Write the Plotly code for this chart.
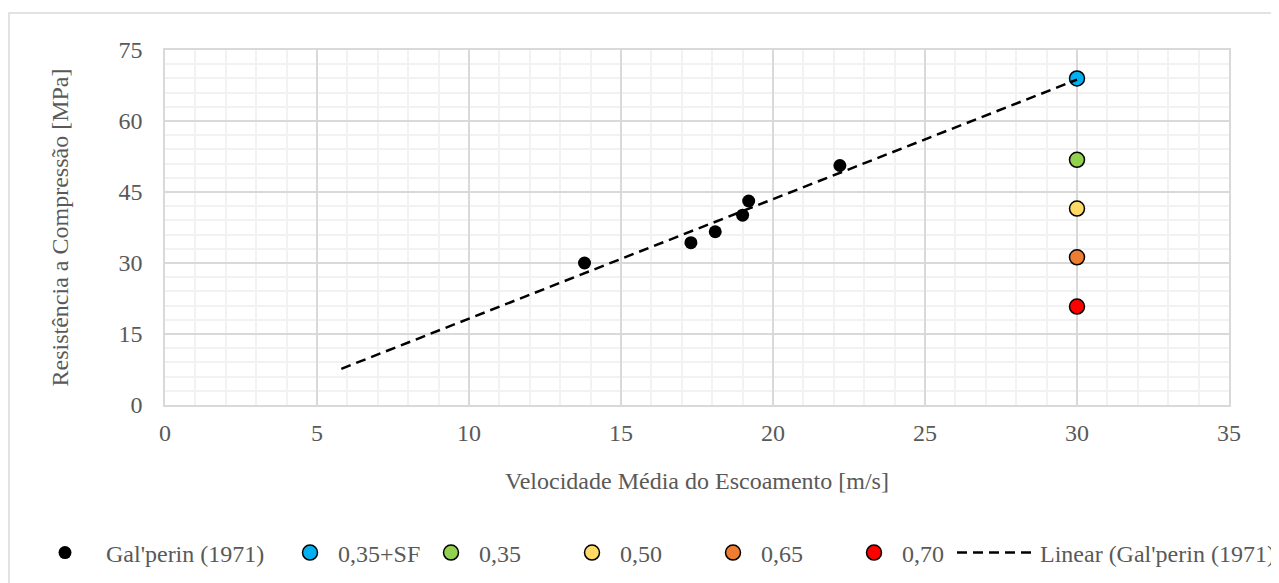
import numpy as np
import plotly.graph_objects as go

# Data
galperin_x = [13.8, 17.3, 18.1, 19.0, 19.2, 22.2]
galperin_y = [30.0, 34.3, 36.6, 40.1, 43.1, 50.6]

mix_names = ["0,35+SF", "0,35", "0,50", "0,65", "0,70"]
mix_x = [30, 30, 30, 30, 30]
mix_y = [69.0, 51.8, 41.5, 31.2, 20.8]
mix_colors = ["#00B0F0", "#92D050", "#FFD966", "#ED7D31", "#FF0000"]

trend_range = [5.8, 30.0]

x_title = "Velocidade Média do Escoamento [m/s]"
y_title = "Resistência a Compressão [MPa]"

FONT = "Liberation Serif, Times New Roman, serif"
TXT = "#595959"

# Linear trendline fitted to Gal'perin data
slope, intercept = np.polyfit(galperin_x, galperin_y, 1)
tx = np.array(trend_range)
ty = slope * tx + intercept

fig = go.Figure()
fig.add_trace(go.Scatter(
    x=galperin_x, y=galperin_y, mode="markers", name="Gal'perin (1971)",
    marker=dict(color="black", size=13, line=dict(width=0)),
    legend="legend",
))
for n, xv, yv, c in zip(mix_names, mix_x, mix_y, mix_colors):
    fig.add_trace(go.Scatter(
        x=[xv], y=[yv], mode="markers", name=n,
        marker=dict(color=c, size=15, line=dict(color="black", width=1.5)),
        legend="legend2",
    ))
fig.add_trace(go.Scatter(
    x=tx, y=ty, mode="lines", name="Linear (Gal'perin (1971))",
    line=dict(color="black", width=2.5, dash="10px,6px"),
    legend="legend3",
))

W, H = 1279, 583
OFF = 8  # page body margin
L, T = 165 - OFF, 50 - OFF
pw, ph = 1064, 355
R = W - L - pw
B = H - T - ph

def px2paper_x(px):
    return (px - OFF - L) / pw

def py2paper_y(py):
    return (T + ph - (py - OFF)) / ph

LEG_Y = 1 - (553 - OFF) / H
LEGFONT = dict(family=FONT, size=24, color=TXT)

fig.update_layout(
    width=W, height=H,
    margin=dict(l=L, r=R, t=T, b=B),
    paper_bgcolor="white", plot_bgcolor="white",
    showlegend=True,
    font=dict(family=FONT, size=24, color=TXT),
    xaxis=dict(
        range=[0, 35], dtick=5, tick0=0,
        showgrid=True, gridcolor="#D9D9D9", gridwidth=1.5,
        minor=dict(dtick=1, showgrid=True, gridcolor="#F2F2F2", gridwidth=1.5),
        showline=True, linecolor="#D9D9D9", linewidth=1.5, mirror=True,
        zeroline=False, ticks="", ticklen=0, ticklabelstandoff=5,
        title=dict(text=x_title, font=dict(family=FONT, size=24, color=TXT), standoff=28),
        tickfont=dict(family=FONT, size=24, color=TXT),
    ),
    yaxis=dict(
        range=[0, 75], dtick=15, tick0=0,
        showgrid=True, gridcolor="#D9D9D9", gridwidth=1.5,
        minor=dict(dtick=3, showgrid=True, gridcolor="#F2F2F2", gridwidth=1.5),
        showline=True, linecolor="#D9D9D9", linewidth=1.5, mirror=True,
        zeroline=False, ticks="", ticklen=0, ticklabelstandoff=16,
        title=dict(text=y_title, font=dict(family=FONT, size=24, color=TXT), standoff=43),
        tickfont=dict(family=FONT, size=24, color=TXT),
    ),
    legend=dict(orientation="h", xref="container", yref="container",
                x=(24 - OFF) / W, y=LEG_Y, xanchor="left", yanchor="middle",
                itemwidth=72, font=LEGFONT, bgcolor="rgba(0,0,0,0)"),
    legend2=dict(orientation="h", xref="container", yref="container",
                 x=(282 - OFF) / W, y=LEG_Y, xanchor="left", yanchor="middle",
                 itemwidth=46, entrywidth=80, font=LEGFONT, bgcolor="rgba(0,0,0,0)"),
    legend3=dict(orientation="h", xref="container", yref="container",
                 x=(952 - OFF) / W, y=LEG_Y, xanchor="left", yanchor="middle",
                 itemwidth=78, font=LEGFONT, bgcolor="rgba(0,0,0,0)"),
    shapes=[dict(type="rect", xref="paper", yref="paper",
                 x0=px2paper_x(9), x1=px2paper_x(1400),
                 y0=py2paper_y(700), y1=py2paper_y(13),
                 line=dict(color="#D9D9D9", width=1.5), layer="below")],
)

fig.write_html("out.html")
